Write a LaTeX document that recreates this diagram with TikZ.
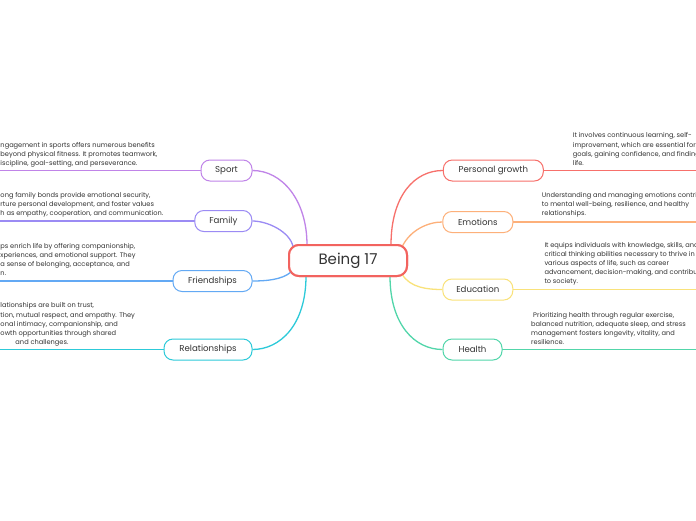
\documentclass[tikz,border=0pt]{standalone}
\usepackage{fontspec}
\setmainfont{Poppins}
\definecolor{cRoot}{HTML}{F2635F}
\definecolor{cSport}{HTML}{C084E8}
\definecolor{cFamily}{HTML}{9B8BF4}
\definecolor{cFriend}{HTML}{63A9F4}
\definecolor{cRel}{HTML}{2DCAD9}
\definecolor{cGrowth}{HTML}{F7706B}
\definecolor{cEmo}{HTML}{FDB07A}
\definecolor{cEdu}{HTML}{F9E27A}
\definecolor{cHealth}{HTML}{52D6AA}
\definecolor{txt}{HTML}{333333}
\tikzset{
  rootbox/.style={draw=cRoot, line width=2pt, fill=white, rounded corners=10pt,
    minimum height=31pt, minimum width=118pt, inner sep=0pt, text=txt,
    font=\fontsize{15}{18}\selectfont},
  topic/.style={draw=#1, line width=1pt, fill=white, rounded corners=9pt,
    minimum height=21pt, inner sep=0pt, text=txt, font=\fontsize{8.6}{10}\selectfont},
  link/.style={draw=#1, line width=1.3pt},
  edge/.style={draw=#1, line width=1.2pt},
  note/.style={anchor=base west, align=left, inner sep=0pt, text=txt,
    font=\fontsize{6.65}{9.1}\selectfont},
}
\begin{document}
\begin{tikzpicture}[x=1pt,y=-1pt]
\useasboundingbox (0,0) rectangle (696,520);
\fill[white] (0,0) rectangle (696,520);
\clip (0,0) rectangle (696,520);

% edge coordinates
\coordinate (eSport) at (0,170.5);
\coordinate (eFamily) at (0,221);
\coordinate (eFriend) at (0,281);
\coordinate (eRel) at (0,349.5);
\coordinate (eGrowth) at (696,170.5);
\coordinate (eEmo) at (696,222);
\coordinate (eEdu) at (696,289.5);
\coordinate (eHealth) at (696,349.5);

% lines to edges and notes
\draw[edge=cSport] (eSport) -- (226.5,170.5);
\draw[edge=cFamily] (eFamily) -- (223,221);
\draw[edge=cFriend] (eFriend) -- (212,281);
\draw[edge=cRel] (eRel) -- (208,349.5);
\draw[edge=cGrowth] (493,170.5) -- (eGrowth);
\draw[edge=cEmo] (478,222) -- (eEmo);
\draw[edge=cEdu] (478,289.5) -- (eEdu);
\draw[edge=cHealth] (472,349.5) -- (eHealth);

\node[note] (tSport) at (0.3,165.3) {ngagement in sports offers numerous benefits\\beyond physical fitness. It promotes teamwork,\\iscipline, goal-setting, and perseverance.};
\node[note] (tFamily) at (0.3,215.3) {ong family bonds provide emotional security,\\rture personal development, and foster values\\h as empathy, cooperation, and communication.};
\node[note] (tFriend) at (0.3,275.6) {ps enrich life by offering companionship,\\xperiences, and emotional support. They\\a sense of belonging, acceptance, and\\n.};
\node[note] (tRel) at (0.3,344.3) {lationships are built on trust,\\tion, mutual respect, and empathy. They\\onal intimacy, companionship, and\\owth opportunities through shared\\\hspace{15pt}and challenges.};
\node[note] (tGrowth) at (572.7,165.2) {It involves continuous learning, self-\\improvement, which are essential for\\goals, gaining confidence, and finding\\life.};
\node[note] (tEmo) at (541.7,215.6) {Understanding and managing emotions contributes\\to mental well-being, resilience, and healthy\\relationships.};
\node[note] (tEdu) at (544.3,283.9) {It equips individuals with knowledge, skills, and\\critical thinking abilities necessary to thrive in\\various aspects of life, such as career\\advancement, decision-making, and contributing\\to society.};
\node[note] (tHealth) at (531,344.4) {\hspace{2pt}Prioritizing health through regular exercise,\\balanced nutrition, adequate sleep, and stress\\management fosters longevity, vitality, and\\resilience.};

% root
\node[rootbox] (root) at (348,260.5) {Being 17};

% start coordinates on root border
\coordinate (sSport) at (307,245);
\coordinate (sFamily) at (293,246.5);
\coordinate (sFriend) at (291,272);
\coordinate (sRel) at (306,276);
\coordinate (sGrowth) at (391,245);
\coordinate (sEmo) at (402,247);
\coordinate (sEdu) at (402,274);
\coordinate (sHealth) at (390,276);

% topics
\node[topic=cSport, minimum width=51pt] (sport) at (226.5,170.5) {Sport};
\node[topic=cFamily, minimum width=57pt] (family) at (223.3,221) {Family};
\node[topic=cFriend, minimum width=79pt] (friend) at (212.5,281) {Friendships};
\node[topic=cRel, minimum width=88pt] (rel) at (208,349.5) {Relationships};
\node[topic=cGrowth, minimum width=100pt] (growth) at (493.3,170.5) {Personal growth};
\node[topic=cEmo, minimum width=70pt] (emo) at (477.8,222) {Emotions};
\node[topic=cEdu, minimum width=70pt] (edu) at (477.8,289.5) {Education};
\node[topic=cHealth, minimum width=59pt] (health) at (472.5,349.5) {Health};

% connectors
\draw[link=cSport] (sSport) .. controls (307,200) and (282,170.5) .. (sport.east);
\draw[link=cFamily] (sFamily) .. controls (290,232) and (268,221) .. (family.east);
\draw[link=cFriend] (sFriend) .. controls (282,280) and (265,281) .. (friend.east);
\draw[link=cRel] (sRel) .. controls (306,325) and (280,349.5) .. (rel.east);
\draw[link=cGrowth] (sGrowth) .. controls (391,195) and (415,170.5) .. (growth.west);
\draw[link=cEmo] (sEmo) .. controls (410,230) and (428,222) .. (emo.west);
\draw[link=cEdu] (sEdu) .. controls (410,288) and (428,289.5) .. (edu.west);
\draw[link=cHealth] (sHealth) .. controls (390,325) and (415,349.5) .. (health.west);

% redraw root border on top
\node[rootbox] (root2) at (348,260.5) {Being 17};
\end{tikzpicture}
\end{document}
